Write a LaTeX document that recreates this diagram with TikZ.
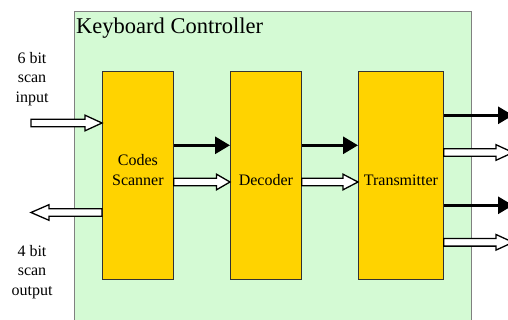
\documentclass[tikz,border=0pt]{standalone}
\usepackage{fontspec}
\setmainfont{Liberation Serif}
\newfontfamily\labelfont{Liberation Serif}
\usetikzlibrary{arrows.meta,calc}

\definecolor{panelgreen}{RGB}{212,250,212}
\definecolor{blockgold}{RGB}{255,211,0}

\tikzset{
  panel/.style={draw=black!50, line width=1pt, fill=panelgreen},
  block/.style={draw=black!80, line width=0.8pt, fill=blockgold, inner sep=0pt},
  lbl/.style={inner sep=0pt, font=\labelfont\fontsize{16}{19.5}\selectfont},
  sidelbl/.style={lbl, align=center, anchor=north},
  solidarrow/.style={line width=3pt, -{Triangle[length=15pt,width=17pt]}},
  % open block arrow: outline between two points on one row
  hollowline/.style={draw=black, line width=1.3pt, fill=white, line join=miter},
  hollow/.style={
    to path={let \p1=(\tikztostart), \p2=(\tikztotarget),
      \n1={sign(\x2-\x1)} in
      (\x1,\y1+3.8pt) -- ({\x2-\n1*#1},\y1+3.8pt) -- ({\x2-\n1*#1},\y1+7.8pt)
      -- (\x2,\y1) -- ({\x2-\n1*#1},\y1-7.8pt) -- ({\x2-\n1*#1},\y1-3.8pt)
      -- (\x1,\y1-3.8pt) -- cycle}},
  hollow/.default=15pt
}

\begin{document}
\begin{tikzpicture}[x=1pt,y=-1pt]
  \useasboundingbox (0,0) rectangle (508,320);
  \clip (0,0) rectangle (508,320);

  % enclosing controller panel
  \node[panel, inner sep=0pt, minimum width=397pt, minimum height=330pt, anchor=north west]
    (ctrl) at (74,11) {};
  \node[inner sep=0pt, anchor=base west, font=\labelfont\fontsize{22.5}{27}\selectfont]
    (title) at (76,33.3) {Keyboard Controller};

  % functional blocks
  \node[block, minimum width=71pt, minimum height=208pt, anchor=north west] (cs)  at (102,71) {};
  \node[block, minimum width=71pt, minimum height=208pt, anchor=north west] (dec) at (230,71) {};
  \node[block, minimum width=85pt, minimum height=208pt, anchor=north west] (tx)  at (358,71) {};

  % signal rows
  \coordinate (rIn)   at (0,123);
  \coordinate (rBus)  at (0,145.3);
  \coordinate (rData) at (0,182);
  \coordinate (rOut)  at (0,212.5);
  \coordinate (rT1)   at (0,115.3);
  \coordinate (rT2)   at (0,152.5);
  \coordinate (rT3)   at (0,205.3);
  \coordinate (rT4)   at (0,242.3);
  \coordinate (lbase) at (0,185.3);

  % block labels
  \node[lbl, anchor=base] (csl2) at (cs.center |- lbase) {Scanner};
  \node[lbl, anchor=base] (csl1) at ($(csl2.base)+(0,-19.5)$) {Codes};
  \node[lbl, anchor=base] (decl) at (dec.center |- lbase) {Decoder};
  \node[lbl, anchor=base] (txl)  at (tx.center |- lbase) {Transmitter};

  % external port labels
  \node[sidelbl] (inl)  at (32,51.8)  {6 bit\\scan\\input};
  \node[sidelbl] (outl) at (32,244.8) {4 bit\\scan\\output};

  % free ends of the external ports
  \coordinate (inSrc)  at (31,0);
  \coordinate (outDst) at (31,0);
  \coordinate (txEnd)  at (513,0);

  % scan ports
  \draw[hollowline] (inSrc |- rIn) to[hollow=17pt] (cs.west |- rIn);
  \draw[hollowline] (cs.west |- rOut) to[hollow=18pt] (outDst |- rOut);

  % internal data path
  \draw[solidarrow] (cs.east |- rBus) -- (dec.west |- rBus);
  \draw[hollowline] (cs.east |- rData) to[hollow=13.5pt] (dec.west |- rData);
  \draw[solidarrow] (dec.east |- rBus) -- (tx.west |- rBus);
  \draw[hollowline] (dec.east |- rData) to[hollow=15pt] (tx.west |- rData);

  % transmitter outputs
  \draw[solidarrow] (tx.east |- rT1) -- (txEnd |- rT1);
  \draw[hollowline] (tx.east |- rT2) to[hollow=17pt] (txEnd |- rT2);
  \draw[solidarrow] (tx.east |- rT3) -- (txEnd |- rT3);
  \draw[hollowline] (tx.east |- rT4) to[hollow=17pt] (txEnd |- rT4);
\end{tikzpicture}
\end{document}
